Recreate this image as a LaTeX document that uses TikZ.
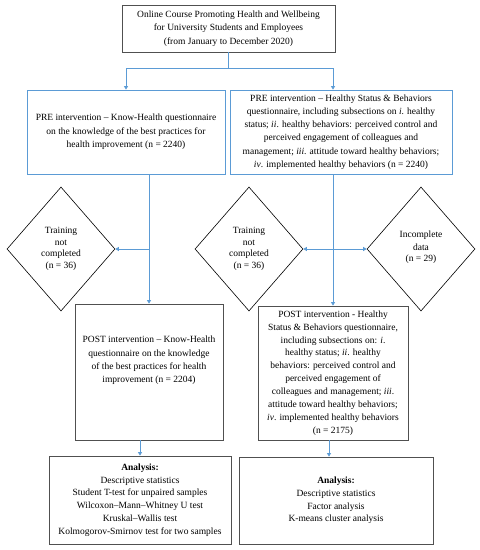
\documentclass[tikz,border=0pt]{standalone}
\usepackage{fontspec}
\setmainfont{Liberation Serif}
\usepackage{xcolor}
\usetikzlibrary{arrows.meta,shapes.geometric,positioning,calc}

\definecolor{flowblue}{RGB}{91,155,213}
\definecolor{boxgray}{RGB}{80,80,80}

\tikzset{
    txt/.style={font=\fontsize{9.5}{13.3}\selectfont, align=center, inner sep=0pt},
    graybox/.style={txt, draw=boxgray, line width=0.8pt},
    bluebox/.style={txt, draw=flowblue, line width=0.8pt},
    choice/.style={diamond, draw, line width=0.6pt, align=center, inner sep=0pt,
        minimum width=108pt, minimum height=124pt, font=\fontsize{9.5}{11.5}\selectfont},
    arr/.style={flowblue, line width=0.8pt, -{Triangle[length=3.5pt,width=4pt]}},
    flow/.style={flowblue, line width=0.8pt}
}

\begin{document}
\begin{tikzpicture}[x=1pt, y=-1pt]
    \useasboundingbox (0,0) rectangle (480,550);

    % Course
    \node[graybox, minimum width=213pt, minimum height=47pt] (course) at (228.5,28.5)
        {Online Course Promoting Health and Wellbeing\\
         for University Students and Employees\\
         (from January to December 2020)};

    % PRE questionnaires
    \node[bluebox, minimum width=198pt, minimum height=84pt] (preK) at (126,132)
        {PRE intervention -- Know-Health questionnaire\\
         on the knowledge of the best practices for\\
         health improvement (n = 2240)};
    \node[bluebox, minimum width=222pt, minimum height=84pt] (preH) at (341,132)
        {PRE intervention -- Healthy Status \& Behaviors\\
         questionnaire, including subsections on \textit{i}. healthy\\
         status; \textit{ii}. healthy behaviors: perceived control and\\
         perceived engagement of colleagues and\\
         management; \textit{iii}. attitude toward healthy behaviors;\\
         \textit{iv}. implemented healthy behaviors (n = 2240)};

    % Drop-outs
    \node[choice] (dropK) at (61,249) {Training\\not\\completed\\(n = 36)};
    \node[choice] (dropH) at (249,249) {Training\\not\\completed\\(n = 36)};
    \node[choice] (missH) at (421,249) {\raisebox{5pt}{\shortstack{Incomplete\\[1.5pt]data\\[1.5pt](n = 29)}}};

    % POST questionnaires
    \node[graybox, minimum width=148pt, minimum height=136pt] (postK) at (149,372)
        {POST intervention -- Know-Health\\
         questionnaire on the knowledge\\
         of the best practices for health\\
         improvement (n = 2204)\\[12pt]};
    \node[graybox, minimum width=150pt, minimum height=134pt,
          font=\fontsize{9.5}{12.9}\selectfont] (postH) at (333,373)
        {POST intervention - Healthy\\
         Status \& Behaviors questionnaire,\\
         including subsections on: \textit{i}.\\
         healthy status; \textit{ii}. healthy\\
         behaviors: perceived control and\\
         perceived engagement of\\
         colleagues and management; \textit{iii}.\\
         attitude toward healthy behaviors;\\
         \textit{iv}. implemented healthy behaviors\\
         (n = 2175)};

    % Analysis
    \node[graybox, minimum width=182pt, minimum height=88pt, font=\fontsize{9.5}{12.8}\selectfont] (anK) at (140,500)
        {\textbf{Analysis:}\\
         Descriptive statistics\\
         Student T-test for unpaired samples\\
         Wilcoxon--Mann--Whitney U test\\
         Kruskal--Wallis test\\
         Kolmogorov-Smirnov test for two samples};
    \node[graybox, minimum width=194pt, minimum height=87pt, font=\fontsize{9.5}{12.8}\selectfont] (anH) at (336,500.5)
        {\textbf{Analysis:}\\
         Descriptive statistics\\
         Factor analysis\\
         K-means cluster analysis};

    % Connectors
    \coordinate (split) at (course.south |- 0,68);
    \draw[flow] (course.south) -- (split);
    \draw[arr] (split) -| (preK.north);
    \draw[arr] (split) -| ([xshift=-8pt]preH.north);

    \draw[arr] (preK.south -| postK.north) -- (postK.north);
    \draw[arr] (postK.north |- dropK.east) -- (dropK.east);

    \draw[arr] (preH.south -| postH.north) -- (postH.north);
    \foreach \tip in {dropH.east, missH.west}
        \draw[arr] (postH.north |- missH.west) -- (\tip);

    \draw[arr] (postK.south -| anK.north) -- (anK.north);
    \draw[arr] ([xshift=-4pt]postH.south) -- ([xshift=-4pt]postH.south |- anH.north);
\end{tikzpicture}
\end{document}
